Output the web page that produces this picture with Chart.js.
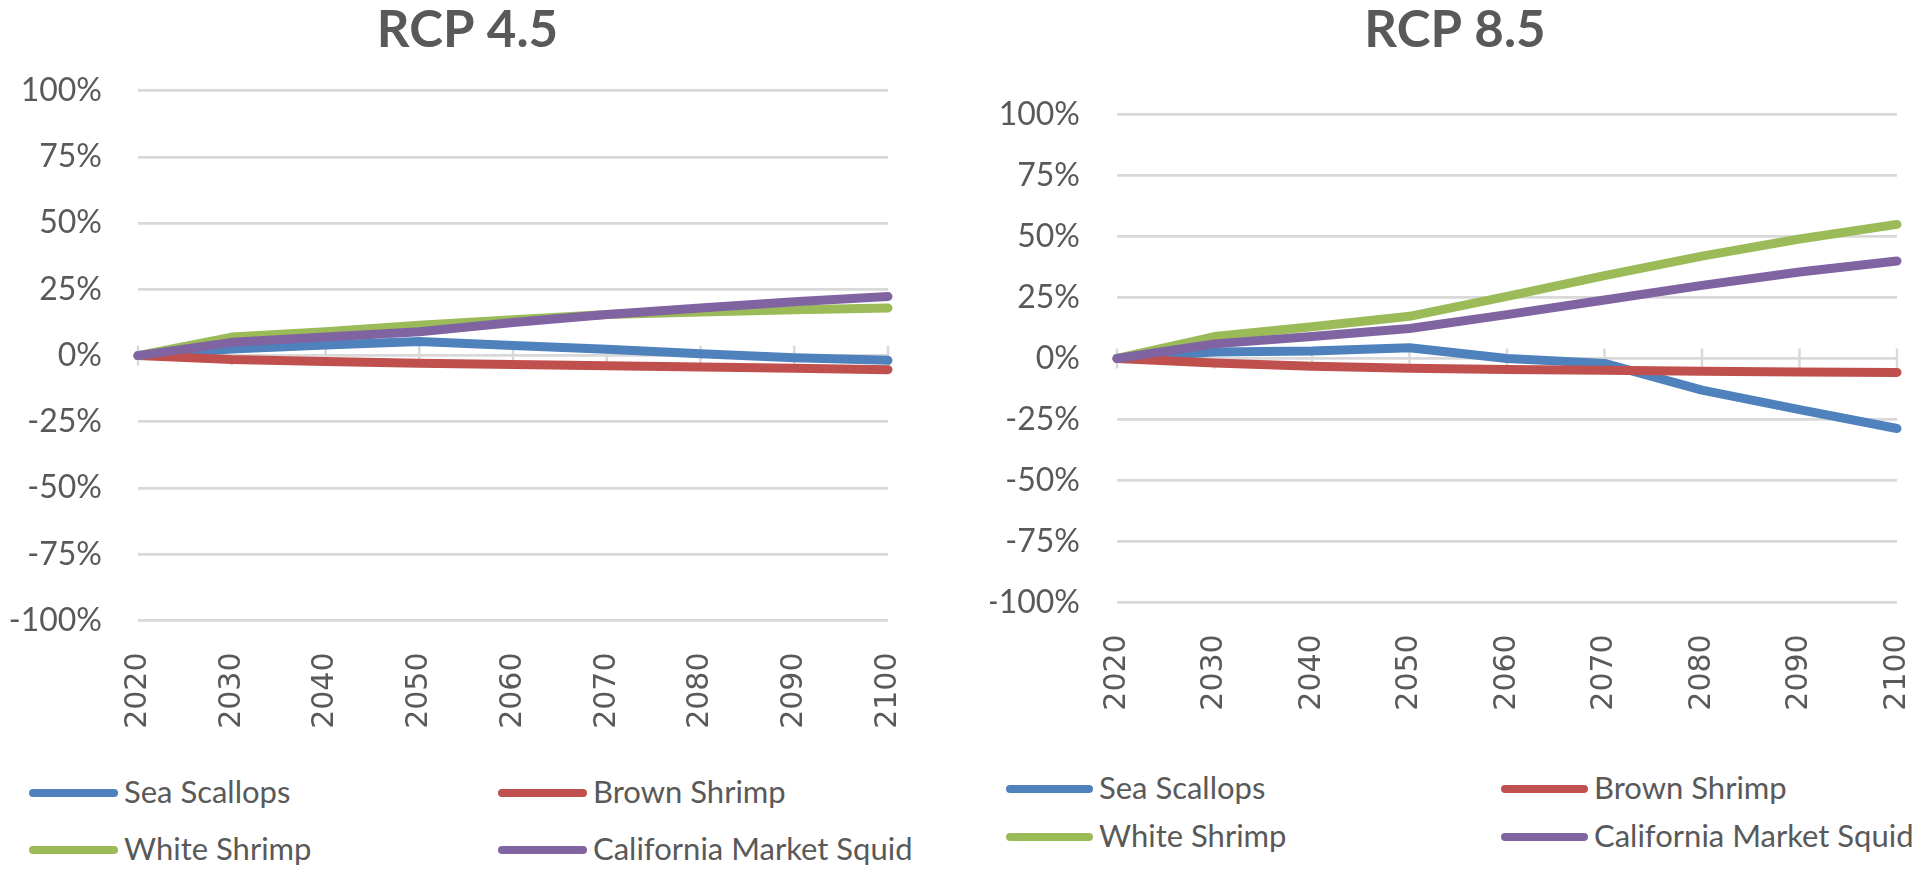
<!DOCTYPE html>
<html>
<head>
<meta charset="utf-8">
<script src="https://cdn.jsdelivr.net/npm/chart.js@4.4.0/dist/chart.umd.min.js"></script>
<style>
  html, body { margin: 0; padding: 0; background: #fff; }
  body { width: 1920px; height: 875px; position: relative; overflow: hidden; font-family: Lato, sans-serif; color: #595959; }
  .box { position: absolute; top: 0; height: 740px; }
  .item { position: absolute; white-space: nowrap; font-size: 31px; line-height: 1; }
  .swatch { position: absolute; height: 8px; border-radius: 4px; }
</style>
</head>
<body>
<div class="box" style="left:0;width:935px"><canvas id="left"></canvas></div>
<div class="box" style="left:990px;width:930px"><canvas id="right"></canvas></div>
<div id="legendLeft"></div>
<div id="legendRight"></div>
<script>
// categories and tick labels
var years = ['2020', '2030', '2040', '2050', '2060', '2070', '2080', '2090', '2100'];
var yTicks = [-100, -75, -50, -25, 0, 25, 50, 75, 100];
var seriesNames = ['Sea Scallops', 'Brown Shrimp', 'White Shrimp', 'California Market Squid'];
var seriesColors = ['#4F81BD', '#C0504D', '#9BBB59', '#8064A2'];

// RCP 4.5 (% change)
var rcp45Scallops = [0, 2.5, 4, 5.3, 3.8, 2.4, 0.7, -0.8, -1.8];
var rcp45Brown    = [0, -1.5, -2.2, -2.9, -3.4, -3.8, -4.3, -4.8, -5.3];
var rcp45White    = [0, 7, 9, 11.5, 13.5, 15.5, 16.5, 17.3, 18];
var rcp45Squid    = [0, 5, 7, 9, 12.5, 15.5, 18, 20.3, 22.3];

// RCP 8.5 (% change)
var rcp85Scallops = [0, 2.7, 3.1, 4.4, 0, -2, -13, -21, -28.7];
var rcp85Brown    = [0, -1.8, -3.2, -4, -4.5, -4.8, -5.2, -5.5, -5.7];
var rcp85White    = [0, 9, 13, 17.3, 25.5, 34, 42, 49, 55];
var rcp85Squid    = [0, 6, 9, 12.3, 18, 24, 30, 35.5, 40];

var textColor = '#595959';
var gridColor = '#D9D9D9';

// small cross ticks on the 0% line, like the Excel category axis
var zeroTicks = {
  id: 'zeroTicks',
  beforeDatasetsDraw: function(chart) {
    var xs = chart.scales.x, ys = chart.scales.y, ctx = chart.ctx;
    var y0 = ys.getPixelForValue(0);
    ctx.save();
    ctx.strokeStyle = gridColor;
    ctx.lineWidth = 2.5;
    xs.ticks.forEach(function(t, i) {
      var px = xs.getPixelForTick(i);
      ctx.beginPath();
      ctx.moveTo(px, y0 - 10);
      ctx.lineTo(px, y0 + 10);
      ctx.stroke();
    });
    ctx.restore();
  }
};

function makeDatasets(values) {
  return values.map(function(v, i) {
    return {
      label: seriesNames[i],
      data: v,
      borderColor: seriesColors[i],
      backgroundColor: seriesColors[i],
      borderWidth: 9,
      borderCapStyle: 'round',
      borderJoinStyle: 'round',
      pointRadius: 0,
      tension: 0,
      clip: false,
      order: values.length - i
    };
  });
}

function makeChart(id, title, values, lay) {
  return new Chart(document.getElementById(id), {
    type: 'line',
    data: { labels: years, datasets: makeDatasets(values) },
    options: {
      responsive: true,
      maintainAspectRatio: false,
      animation: false,
      layout: { padding: 0 },
      plugins: {
        legend: { display: false },
        tooltip: { enabled: false },
        title: {
          display: true,
          text: title,
          color: textColor,
          font: { family: 'Lato', size: 51, weight: 'bold' },
          padding: { top: 0, bottom: lay.titleGap }
        }
      },
      scales: {
        x: {
          offset: false,
          grid: { display: false },
          border: { display: false },
          ticks: {
            autoSkip: false,
            minRotation: 90,
            maxRotation: 90,
            padding: lay.xPad,
            color: textColor,
            font: { family: 'DejaVu Sans', size: 30 }
          },
          afterFit: function(s) {
            s.height = lay.xHeight;
            s.paddingLeft = 0;
            s.paddingRight = lay.right;
          }
        },
        y: {
          min: -100,
          max: 100,
          grid: { color: gridColor, lineWidth: 2.8, drawTicks: false },
          border: { display: false },
          afterBuildTicks: function(s) { s.ticks = yTicks.map(function(v) { return { value: v }; }); },
          ticks: {
            padding: lay.yPad,
            color: textColor,
            font: { family: 'Lato', size: 32 },
            callback: function(v) { return v + '%'; }
          },
          afterFit: function(s) { s.width = lay.yWidth; }
        }
      }
    },
    plugins: [zeroTicks]
  });
}

var leftChart = makeChart('left', 'RCP 4.5',
  [rcp45Scallops, rcp45Brown, rcp45White, rcp45Squid],
  { right: 47, titleGap: 29.5, xPad: 24, xHeight: 119.5, yPad: 36, yWidth: 138 });

var rightChart = makeChart('right', 'RCP 8.5',
  [rcp85Scallops, rcp85Brown, rcp85White, rcp85Squid],
  { right: 23, titleGap: 53.5, xPad: 24, xHeight: 137.7, yPad: 37, yWidth: 127 });

// two-column legend under each chart, built from the chart's datasets
function buildLegend(chart, el, pos) {
  chart.data.datasets.forEach(function(ds, i) {
    var col = i % 2, row = Math.floor(i / 2);
    var x = pos.cols[col], y = pos.rows[row];
    var sw = document.createElement('div');
    sw.className = 'swatch';
    sw.style.left = x + 'px';
    sw.style.top = (y - 4) + 'px';
    sw.style.width = pos.swatch + 'px';
    sw.style.background = ds.borderColor;
    el.appendChild(sw);
    var tx = document.createElement('div');
    tx.className = 'item';
    tx.style.left = (x + pos.swatch + 6) + 'px';
    tx.style.top = (y - 17) + 'px';
    tx.textContent = ds.label;
    el.appendChild(tx);
  });
}

buildLegend(leftChart, document.getElementById('legendLeft'),
  { cols: [29, 498], rows: [793, 850], swatch: 89 });
buildLegend(rightChart, document.getElementById('legendRight'),
  { cols: [1006, 1501], rows: [789, 837], swatch: 87 });
</script>
</body>
</html>
